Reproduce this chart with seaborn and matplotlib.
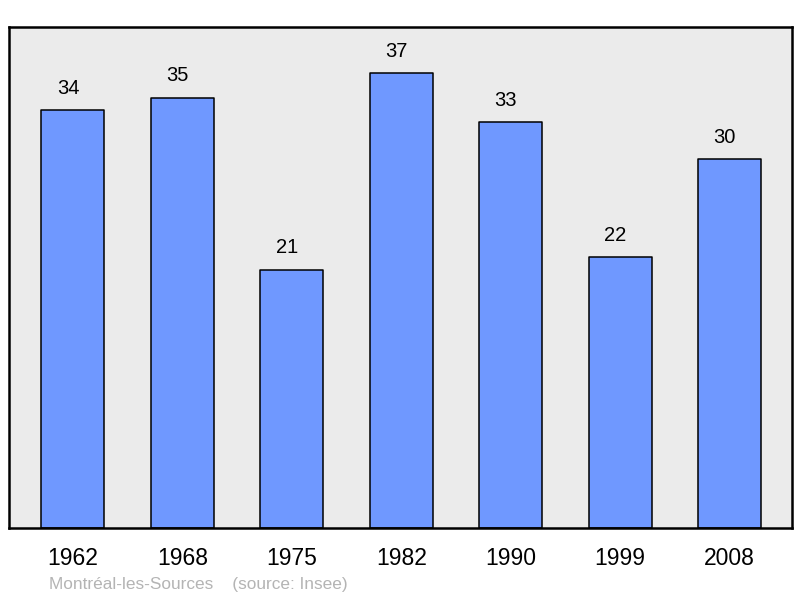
import matplotlib
matplotlib.use("Agg")
import matplotlib.pyplot as plt
import seaborn as sns
import pandas as pd

# population by census year
years = ["1962", "1968", "1975", "1982", "1990", "1999", "2008"]
population = [34, 35, 21, 37, 33, 22, 30]
footer = "Montréal-les-Sources    (source: Insee)"

df = pd.DataFrame({"year": years, "pop": population})

sns.set_style("white")
plt.rcParams["font.family"] = ["Liberation Sans", "DejaVu Sans"]

fig = plt.figure(figsize=(8, 5.98), dpi=100)
ax = fig.add_axes([0.01125, 0.117, 0.97875, 0.838])
ax.set_facecolor("#ebebeb")

sns.barplot(data=df, x="year", y="pop", color="#6f98ff", saturation=1,
            width=0.575, edgecolor="black", linewidth=1.1, ax=ax)
for p in ax.patches:
    p.set_joinstyle("round")

# value labels sit a little left of the bar centre in the original
for i, v in enumerate(population):
    ax.text(i - 0.045, v + 1.78, str(v), ha="center", va="center", fontsize=14.5, color="black")

ax.set_xlim(-0.584, 6.57)
ax.set_ylim(0, 40.75)
ax.set_yticks([])
ax.set_xlabel("")
ax.set_ylabel("")
ax.tick_params(axis="x", length=0, pad=14, labelsize=16.5, labelcolor="black")
for s in ax.spines.values():
    s.set_visible(True)
    s.set_color("black")
    s.set_linewidth(1.8)

fig.text(49 / 800, 1 - 584 / 598, footer, fontsize=12.4, color="#b4b4b4",
         ha="left", va="center")

fig.savefig("out.png", dpi=100)
